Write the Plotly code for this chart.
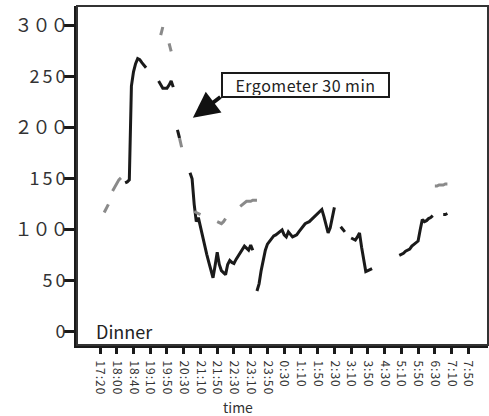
import plotly.graph_objects as go

# ---- data (x = reading index, 5-min steps; labels every 8th reading) ----
tick_labels = ["17:20", "18:00", "18:40", "19:10", "19:50", "20:30", "21:10", "21:50",
               "22:30", "23:10", "23:50", "0:30", "1:10", "1:50", "2:30", "3:10",
               "3:50", "4:30", "5:10", "5:50", "6:30", "7:10", "7:50"]
y_tick_vals = [0, 50, 100, 150, 200, 250, 300]
y_tick_labels = ["0", "50", "１００", "150", "２００", "250", "３００"]

# black (measured) series: segment start index + values
black_starts = [12, 28, 37, 43, 75, 115, 120, 143, 164]
black_b1 = [146, 147, 149, 241, 255, 263, 268, 267, 264, 262, 259]
black_b2 = [246, 242, 239, 239, 239, 242, 246, 240]
black_b3 = [198, 190]
black_b4 = [156, 150, 125, 108, 112, 103, 91, 84, 76, 68, 60, 53, 65, 78, 66, 60,
            58, 56, 66, 70, 68, 67, 71, 74, 77, 80, 84, 82, 80, 85, 80]
black_b5 = [40, 47, 60, 70, 80, 86, 89, 92, 94, 95, 97, 99, 100, 95, 93, 98, 96, 93,
            94, 95, 98, 101, 104, 106, 107, 108, 110, 112, 114, 116, 118, 120, 113,
            106, 97, 102, 114, 122]
black_b6 = [103, 100, 98]
black_b7 = [92, 91, 90, 93, 97, 83, 69, 59, 60, 61, 62]
black_b8 = [75, 76, 77, 79, 80, 81, 84, 86, 87, 89, 100, 110, 108, 109, 111, 112, 114]
black_b9 = [115, 115, 116]

# gray series
gray_starts = [2, 6, 29, 33, 38, 45, 56, 67, 160]
gray_g1 = [117, 121, 125]
gray_g2 = [138, 142, 145, 149, 151]
gray_g3 = [291, 299]
gray_g4 = [283, 275]
gray_g5 = [190, 181]
gray_g6 = [118, 117, 116, 115]
gray_g7 = [108, 107, 106, 108, 111]
gray_g8 = [123, 125, 127, 128, 128, 128, 129, 129, 129]
gray_g9 = [143, 143, 144, 144, 144, 145, 145]

black_segs = [black_b1, black_b2, black_b3, black_b4, black_b5, black_b6, black_b7, black_b8, black_b9]
gray_segs = [gray_g1, gray_g2, gray_g3, gray_g4, gray_g5, gray_g6, gray_g7, gray_g8, gray_g9]


def build(starts, segs):
    xs, ys = [], []
    for s, seg in zip(starts, segs):
        xs += list(range(s, s + len(seg))) + [None]
        ys += list(seg) + [None]
    return xs, ys


bx, by = build(black_starts, black_segs)
gx, gy = build(gray_starts, gray_segs)

FONT = "Noto Sans CJK JP"


def spaced(t, px):
    return '<span style="letter-spacing:%spx">%s</span>' % (px, t)


# half-width labels drawn a bit wider-spaced like the original
y_tick_text = [t if not t.isascii() else spaced(t, 3) for t in y_tick_labels]
x_tick_text = [spaced(t, 1) for t in tick_labels]

fig = go.Figure()
fig.add_trace(go.Scatter(x=bx, y=by, mode="lines", connectgaps=False,
                         line=dict(color="#1a1a1a", width=3), hoverinfo="skip"))
fig.add_trace(go.Scatter(x=gx, y=gy, mode="lines", connectgaps=False,
                         line=dict(color="#8a8a8a", width=3), hoverinfo="skip"))

tickvals = [i * 8 for i in range(len(tick_labels))]

fig.update_layout(
    width=489, height=416,
    margin=dict(l=77, r=1, t=6, b=71),
    paper_bgcolor="white", plot_bgcolor="white",
    showlegend=False,
    font=dict(family=FONT, color="#222"),
    xaxis=dict(range=[-11, 185.4], tickmode="array", tickvals=tickvals, ticktext=x_tick_text,
               tickangle=90, tickfont=dict(size=12, family=FONT, color="#333"),
               ticklabelstandoff=4,
               showgrid=False, zeroline=False, showline=True, linecolor="#1a1a1a", linewidth=3,
               ticks="outside", ticklen=6, tickwidth=3, tickcolor="#1a1a1a"),
    yaxis=dict(range=[-13, 319.6], tickmode="array", tickvals=y_tick_vals, ticktext=y_tick_text,
               tickfont=dict(size=18, family=FONT, color="#333"), ticklabelstandoff=-8,
               showgrid=False, zeroline=False, showline=True, linecolor="#1a1a1a", linewidth=3,
               ticks="outside", ticklen=10, tickwidth=3, tickcolor="#1a1a1a"),
    shapes=[dict(type="rect", xref="paper", yref="paper", x0=0, x1=1, y0=0, y1=1,
                 line=dict(color="#333", width=2), layer="above")],
    annotations=[
        dict(text=spaced("Ergometer 30 min", 0.5), xref="paper", yref="paper", x=0.557, y=0.767,
             xanchor="center", yanchor="middle", showarrow=False,
             font=dict(size=16, family=FONT, color="#222"),
             bordercolor="#1a1a1a", borderwidth=2, bgcolor="white",
             width=163, height=20, borderpad=1),
        dict(text="", xref="paper", yref="paper", x=0.282, y=0.670,
             showarrow=True, ax=29, ay=-22, arrowhead=2, arrowsize=1.3,
             arrowwidth=4, arrowcolor="#111"),
        dict(text="Dinner", xref="paper", yref="paper", x=0.041, y=0.041,
             xanchor="left", yanchor="middle", showarrow=False,
             font=dict(size=18, family=FONT, color="#222")),
        dict(text="time", xref="paper", yref="paper", x=0.392, y=-0.183,
             xanchor="center", yanchor="middle", showarrow=False,
             font=dict(size=14, family=FONT, color="#333")),
    ],
)

fig.write_html("out.html")
